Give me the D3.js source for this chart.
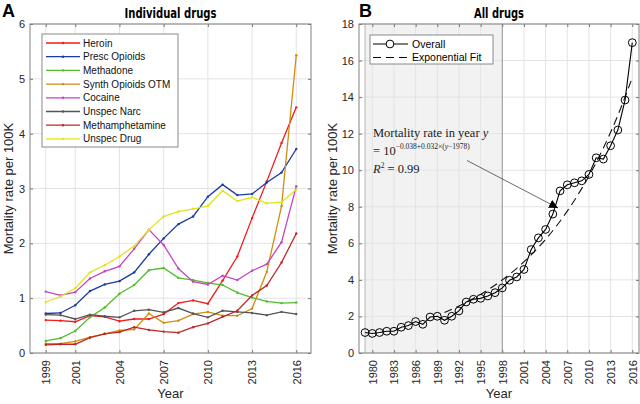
<!DOCTYPE html>
<html lang="en">
<head>
<meta charset="utf-8" />
<title>Drug mortality</title>
<script src="https://cdn.jsdelivr.net/npm/d3@7"></script>
<style>
    body { margin: 0; background: #fff; }
    svg { font-family: "Liberation Sans", Arial, sans-serif; }
    .grid line { stroke: #e3e3e3; stroke-width: 1; }
    .tick text { fill: #262626; font-size: 11px; }
</style>
</head>
<body>
<div id="chart"></div>
<script>
    // ---- data, panel A ----
    var yearsA = [1999, 2000, 2001, 2002, 2003, 2004, 2005, 2006, 2007, 2008,
                  2009, 2010, 2011, 2012, 2013, 2014, 2015, 2016];
    var heroin = [0.60, 0.59, 0.57, 0.68, 0.66, 0.58, 0.62, 0.62, 0.71, 0.91,
                  0.96, 0.90, 1.32, 1.76, 2.46, 3.13, 3.83, 4.48];
    var prescOpioids = [0.72, 0.73, 0.87, 1.13, 1.25, 1.31, 1.47, 1.80, 2.09, 2.35,
                        2.49, 2.85, 3.07, 2.88, 2.90, 3.11, 3.29, 3.72];
    var methadone = [0.22, 0.27, 0.40, 0.65, 0.83, 1.08, 1.24, 1.51, 1.55, 1.37,
                     1.33, 1.28, 1.24, 1.10, 1.01, 0.94, 0.91, 0.92];
    var synthOpioids = [0.17, 0.17, 0.21, 0.29, 0.35, 0.41, 0.43, 0.72, 0.55, 0.59,
                        0.71, 0.75, 0.68, 0.68, 0.81, 1.48, 2.68, 5.43];
    var cocaine = [1.12, 1.05, 1.11, 1.36, 1.49, 1.58, 1.90, 2.25, 1.97, 1.54,
                   1.30, 1.25, 1.41, 1.33, 1.50, 1.62, 2.02, 3.04];
    var unspecNarc = [0.70, 0.69, 0.62, 0.70, 0.67, 0.65, 0.77, 0.79, 0.74, 0.82,
                      0.72, 0.65, 0.77, 0.75, 0.73, 0.69, 0.75, 0.71];
    var methamphetamine = [0.15, 0.16, 0.16, 0.28, 0.35, 0.38, 0.47, 0.42, 0.39, 0.37,
                           0.47, 0.54, 0.66, 0.77, 1.05, 1.23, 1.65, 2.18];
    var unspecDrug = [0.93, 1.03, 1.18, 1.47, 1.60, 1.76, 1.95, 2.25, 2.49, 2.58,
                      2.63, 2.68, 2.96, 2.77, 2.84, 2.73, 2.75, 2.98];
    var seriesNames = ["Heroin", "Presc Opioids", "Methadone", "Synth Opioids OTM",
                       "Cocaine", "Unspec Narc", "Methamphetamine", "Unspec Drug"];
    var seriesColors = ["#ee1c1c", "#1b3aa6", "#52bb2e", "#d08c0c",
                        "#c445c4", "#555555", "#bf2626", "#e2e21a"];
    var ticksA = [1999, 2001, 2004, 2007, 2010, 2013, 2016];

    // ---- data, panel B ----
    var yearsB = [1979, 1980, 1981, 1982, 1983, 1984, 1985, 1986, 1987, 1988,
                  1989, 1990, 1991, 1992, 1993, 1994, 1995, 1996, 1997, 1998,
                  1999, 2000, 2001, 2002, 2003, 2004, 2005, 2006, 2007, 2008,
                  2009, 2010, 2011, 2012, 2013, 2014, 2015, 2016];
    var overall = [1.12, 1.07, 1.12, 1.19, 1.19, 1.41, 1.50, 1.72, 1.57, 1.97,
                   2.01, 1.79, 2.01, 2.30, 2.79, 2.94, 2.99, 3.12, 3.30, 3.56,
                   3.98, 4.16, 4.57, 5.66, 6.30, 6.76, 7.60, 8.87, 9.20, 9.31,
                   9.42, 9.77, 10.68, 10.61, 11.34, 12.20, 13.84, 16.98];
    var fitYears = [1990, 1992, 1994, 1996, 1998, 2000, 2002, 2004, 2006, 2008,
                    2010, 2012, 2014, 2016];
    var fitValues = [2.22, 2.57, 2.98, 3.45, 4.00, 4.63, 5.37, 6.22, 7.21, 8.36,
                     9.68, 11.22, 13.00, 15.07];
    var ticksB = [1980, 1983, 1986, 1989, 1992, 1995, 1998, 2001, 2004, 2007,
                  2010, 2013, 2016];
    var shadeYears = [1979, 1998];

    var W = 640, H = 404;
    var plotTop = 24, plotBottom = 353;

    var svg = d3.select("#chart").append("svg")
        .attr("width", W).attr("height", H);

    // light grid behind the data
    function frame(g, x, y, xt, yt) {
        var x0 = x.range()[0], x1 = x.range()[1];
        g.append("g").attr("class", "grid")
            .selectAll("line").data(xt).enter().append("line")
            .attr("x1", d => x(d)).attr("x2", d => x(d))
            .attr("y1", plotTop).attr("y2", plotBottom);
        g.append("g").attr("class", "grid")
            .selectAll("line").data(yt).enter().append("line")
            .attr("x1", x0).attr("x2", x1)
            .attr("y1", d => y(d)).attr("y2", d => y(d));
    }

    // box with inward ticks on all four sides
    function axes(g, x, y, xt, yt) {
        var x0 = x.range()[0], x1 = x.range()[1];
        g.append("g").attr("transform", "translate(0," + plotBottom + ")")
            .call(d3.axisBottom(x).tickValues(xt).tickSize(-3).tickFormat(d3.format("d")))
            .call(a => a.selectAll("text")
                .attr("transform", "rotate(-90)")
                .attr("text-anchor", "end")
                .attr("x", -7).attr("y", 0).attr("dy", "0.35em"));
        g.append("g").attr("transform", "translate(0," + plotTop + ")")
            .call(d3.axisTop(x).tickValues(xt).tickSize(-3).tickFormat(""));
        g.append("g").attr("transform", "translate(" + x0 + ",0)")
            .call(d3.axisLeft(y).tickValues(yt).tickSize(-3).tickPadding(5)
                .tickFormat(d3.format("d")));
        g.append("g").attr("transform", "translate(" + x1 + ",0)")
            .call(d3.axisRight(y).tickValues(yt).tickSize(-3).tickFormat(""));
        g.selectAll(".domain").remove();
        g.selectAll(".tick line").attr("stroke", "#777");
        g.append("rect")
            .attr("x", x0).attr("y", plotTop)
            .attr("width", x1 - x0).attr("height", plotBottom - plotTop)
            .attr("fill", "none").attr("stroke", "#808080").attr("stroke-width", 1);
    }

    function labels(g, x, title, titleW, letter, letterX, ylabX) {
        var x0 = x.range()[0], x1 = x.range()[1];
        g.append("text").attr("x", (x0 + x1) / 2).attr("y", 18)
            .attr("text-anchor", "middle")
            .attr("textLength", titleW).attr("lengthAdjust", "spacingAndGlyphs")
            .style("font-family", "'Liberation Sans Narrow', 'DejaVu Sans Condensed', sans-serif")
            .style("font-weight", "bold").style("font-size", "14px")
            .text(title);
        g.append("text").attr("x", letterX).attr("y", 17)
            .style("font-weight", "bold").style("font-size", "18px")
            .text(letter);
        g.append("text").attr("x", (x0 + x1) / 2).attr("y", 398)
            .attr("text-anchor", "middle").style("font-size", "13px")
            .attr("fill", "#262626").text("Year");
        g.append("text")
            .attr("transform", "translate(" + ylabX + "," + ((plotTop + plotBottom) / 2) + ") rotate(-90)")
            .attr("text-anchor", "middle").style("font-size", "13px")
            .attr("fill", "#262626").text("Mortality rate per 100K");
    }

    // ================= Panel A =================
    var gA = svg.append("g");
    var xA = d3.scaleLinear().domain([1997.93, 2017]).range([30, 311]);
    var yA = d3.scaleLinear().domain([0, 6]).range([plotBottom, plotTop]);
    var yTicksA = [0, 1, 2, 3, 4, 5, 6];
    frame(gA, xA, yA, ticksA, yTicksA);

    var seriesA = [heroin, prescOpioids, methadone, synthOpioids,
                   cocaine, unspecNarc, methamphetamine, unspecDrug];
    var lineA = d3.line().x((d, i) => xA(yearsA[i])).y(d => yA(d));
    seriesA.forEach(function (vals, k) {
        var s = gA.append("g");
        s.append("path").attr("d", lineA(vals))
            .attr("fill", "none").attr("stroke", seriesColors[k]).attr("stroke-width", 1.3);
        s.selectAll("circle").data(vals).enter().append("circle")
            .attr("cx", (d, i) => xA(yearsA[i])).attr("cy", d => yA(d))
            .attr("r", 1.2).attr("fill", seriesColors[k]);
    });
    axes(gA, xA, yA, ticksA, yTicksA);
    labels(gA, xA, "Individual drugs", 92, "A", 2, 13);

    // legend A
    var legA = gA.append("g");
    legA.append("rect").attr("x", 42).attr("y", 34).attr("width", 136).attr("height", 113)
        .attr("fill", "#fff").attr("stroke", "#8a8a8a");
    seriesNames.forEach(function (name, k) {
        var yy = 43 + k * 13.7;
        legA.append("line").attr("x1", 46).attr("x2", 80).attr("y1", yy).attr("y2", yy)
            .attr("stroke", seriesColors[k]).attr("stroke-width", 1.3);
        legA.append("circle").attr("cx", 63).attr("cy", yy).attr("r", 1.2)
            .attr("fill", seriesColors[k]);
        legA.append("text").attr("x", 83).attr("y", yy).attr("dy", "0.35em")
            .style("font-size", "10px").attr("fill", "#111").text(name);
    });

    // ================= Panel B =================
    var gB = svg.append("g");
    var xB = d3.scaleLinear().domain([1978.16, 2016.93]).range([359, 639]);
    var yB = d3.scaleLinear().domain([0, 18]).range([plotBottom, plotTop]);
    var yTicksB = [0, 2, 4, 6, 8, 10, 12, 14, 16, 18];

    gB.append("rect")
        .attr("x", xB(shadeYears[0])).attr("y", plotTop)
        .attr("width", xB(shadeYears[1]) - xB(shadeYears[0])).attr("height", plotBottom - plotTop)
        .attr("fill", "#f2f2f2");
    frame(gB, xB, yB, ticksB, yTicksB);
    gB.append("line").attr("x1", xB(shadeYears[0])).attr("x2", xB(shadeYears[0]))
        .attr("y1", plotTop).attr("y2", plotBottom).attr("stroke", "#b5b5b5");
    gB.append("line").attr("x1", xB(shadeYears[1])).attr("x2", xB(shadeYears[1]))
        .attr("y1", plotTop).attr("y2", plotBottom).attr("stroke", "#999");

    var lineB = d3.line().x((d, i) => xB(yearsB[i])).y(d => yB(d));
    var fitLine = d3.line().curve(d3.curveMonotoneX)
        .x((d, i) => xB(fitYears[i])).y(d => yB(d));
    gB.append("path").attr("d", fitLine(fitValues))
        .attr("fill", "none").attr("stroke", "#111").attr("stroke-width", 1.1)
        .attr("stroke-dasharray", "8,5");
    gB.append("path").attr("d", lineB(overall))
        .attr("fill", "none").attr("stroke", "#000").attr("stroke-width", 1.1);
    gB.selectAll("circle.pt").data(overall).enter().append("circle")
        .attr("class", "pt")
        .attr("cx", (d, i) => xB(yearsB[i])).attr("cy", d => yB(d))
        .attr("r", 3.9).attr("fill", "none").attr("stroke", "#000").attr("stroke-width", 1);
    axes(gB, xB, yB, ticksB, yTicksB);
    labels(gB, xB, "All drugs", 50, "B", 359, 337);

    // legend B
    var legB = gB.append("g");
    legB.append("rect").attr("x", 370).attr("y", 35).attr("width", 123).attr("height", 29)
        .attr("fill", "#fff").attr("stroke", "#8a8a8a");
    legB.append("line").attr("x1", 373).attr("x2", 408).attr("y1", 44).attr("y2", 44)
        .attr("stroke", "#000").attr("stroke-width", 1.1);
    legB.append("circle").attr("cx", 390).attr("cy", 44).attr("r", 3.9)
        .attr("fill", "#fff").attr("stroke", "#000");
    legB.append("line").attr("x1", 373).attr("x2", 408).attr("y1", 57.5).attr("y2", 57.5)
        .attr("stroke", "#000").attr("stroke-width", 1.1).attr("stroke-dasharray", "8,5");
    legB.append("text").attr("x", 412).attr("y", 44).attr("dy", "0.35em")
        .style("font-size", "10.5px").text("Overall");
    legB.append("text").attr("x", 412).attr("y", 57.5).attr("dy", "0.35em")
        .style("font-size", "10.5px").text("Exponential Fit");

    // annotation
    var serif = "'Liberation Serif', 'DejaVu Serif', serif";
    var ann = gB.append("g").style("font-family", serif).attr("fill", "#222");
    var t1 = ann.append("text").attr("x", 373).attr("y", 137).style("font-size", "12.5px");
    t1.append("tspan").text("Mortality rate in year ");
    t1.append("tspan").style("font-style", "italic").text("y");
    var t2 = ann.append("text").attr("x", 373).attr("y", 155).style("font-size", "12.5px");
    t2.append("tspan").text("= 10");
    var t2s = t2.append("tspan").attr("dy", -6).style("font-size", "7.5px");
    t2s.append("tspan").text("\u22120.038+0.032\u00d7(");
    t2s.append("tspan").style("font-style", "italic").text("y");
    t2s.append("tspan").text("\u22121978)");
    var t3 = ann.append("text").attr("x", 373).attr("y", 173).style("font-size", "12.5px");
    t3.append("tspan").style("font-style", "italic").text("R");
    t3.append("tspan").attr("dy", -5).style("font-size", "7.5px").text("2");
    t3.append("tspan").attr("dy", 5).text(" = 0.99");

    svg.append("defs").append("marker")
        .attr("id", "arrow").attr("viewBox", "0 0 10 10")
        .attr("refX", 10).attr("refY", 5)
        .attr("markerWidth", 9).attr("markerHeight", 9)
        .attr("markerUnits", "userSpaceOnUse")
        .attr("orient", "auto")
        .append("path").attr("d", "M0,0 L10,5 L0,10 z").attr("fill", "#000");
    gB.append("line").attr("x1", 467).attr("y1", 160.5).attr("x2", 558).attr("y2", 208)
        .attr("stroke", "#444").attr("stroke-width", 0.8)
        .attr("marker-end", "url(#arrow)");
</script>
</body>
</html>
